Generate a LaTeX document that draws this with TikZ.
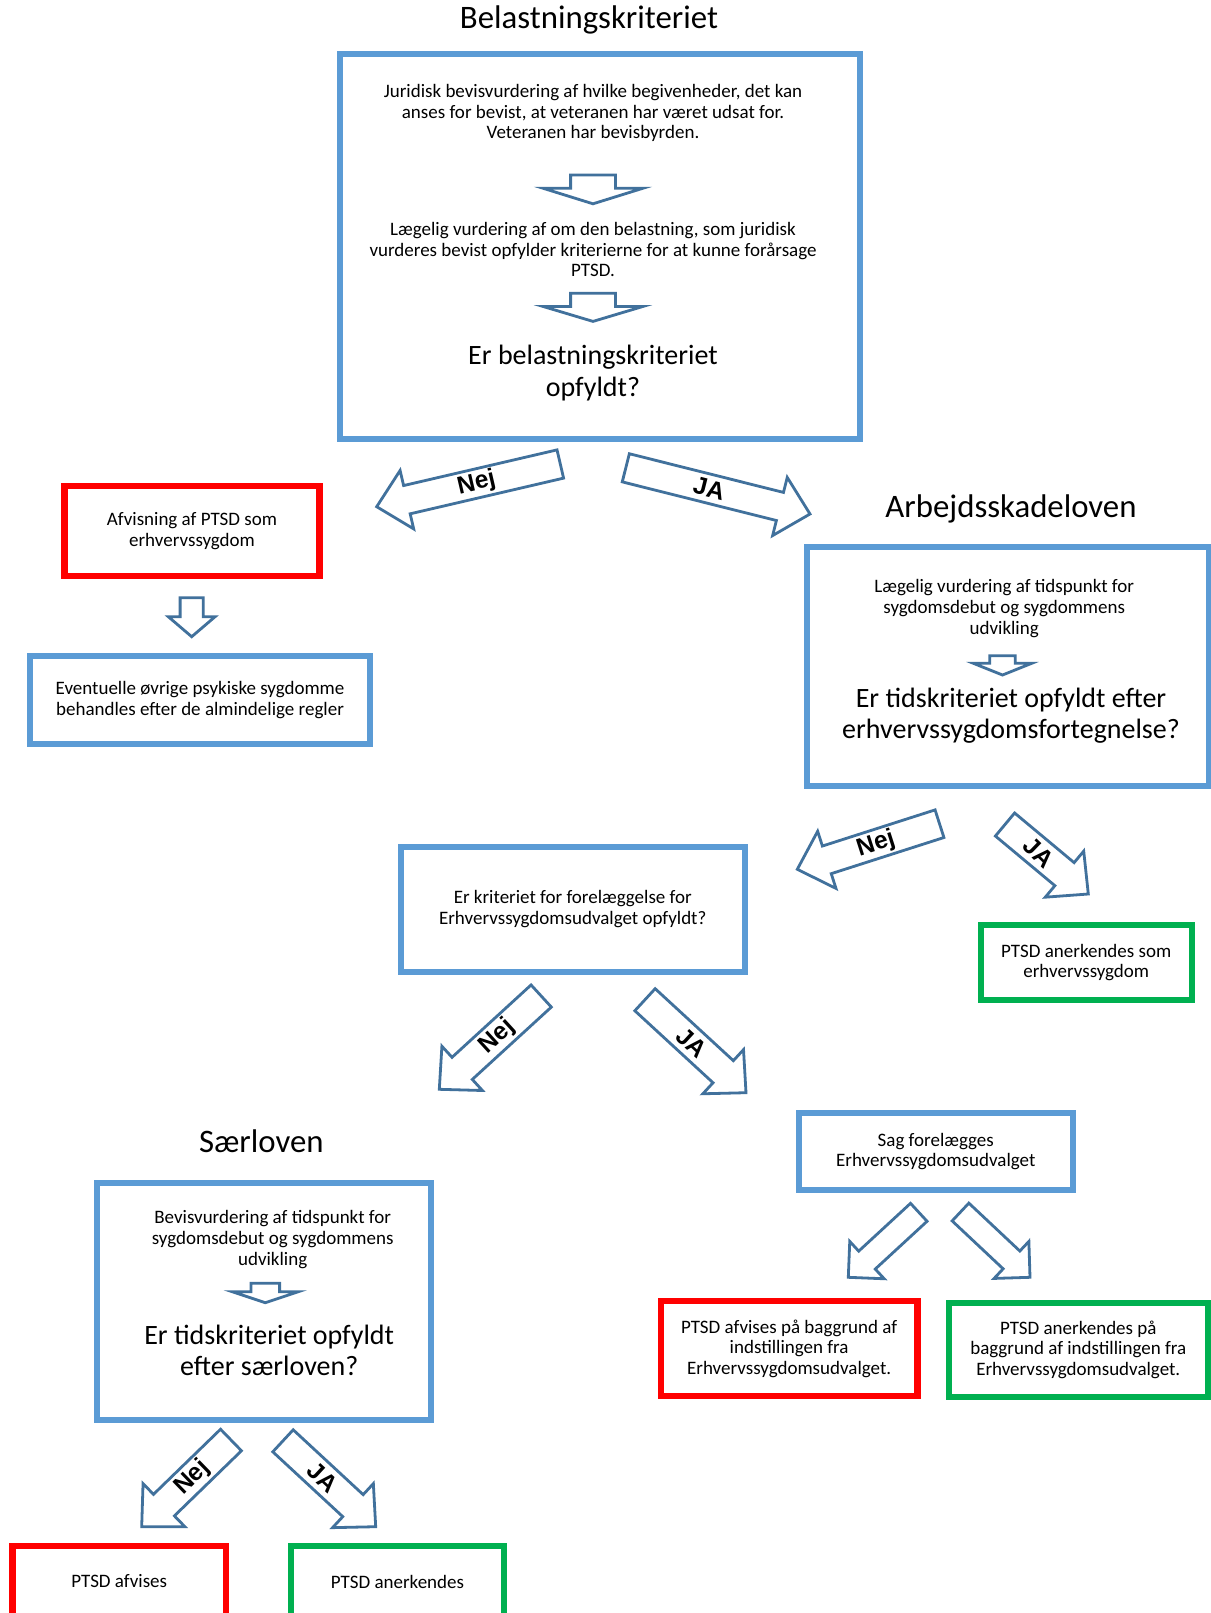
\documentclass[tikz,border=0pt]{standalone}
\usepackage{fontspec}
\setmainfont{Carlito}
\newfontfamily\lblfont{Liberation Sans}
\usetikzlibrary{calc}
\definecolor{boxblue}{HTML}{5B9BD5}
\definecolor{arrblue}{HTML}{41719C}
\definecolor{boxred}{HTML}{FF0000}
\definecolor{boxgreen}{HTML}{00B050}
% block arrow: #1 tail coordinate, #2 tip coordinate, #3 shaft half width, #4 head half width, #5 head length
\newcommand\blockarrow[5]{%
  \coordinate (#1-b) at ($(#2)!#5!(#1)$);
  \draw[arrline] ($(#1)!#3!90:(#2)$) -- ($(#1-b)!#3!90:(#2)$) -- ($(#1-b)!#4!90:(#2)$) -- (#2)
    -- ($(#1-b)!#4!-90:(#2)$) -- ($(#1-b)!#3!-90:(#2)$) -- ($(#1)!#3!-90:(#2)$) -- cycle;
}
\tikzset{
  arrline/.style={draw=arrblue, line width=1.4pt, line join=miter, fill=white},
  bluebox/.style={draw=boxblue, line width=3pt, inner sep=0pt, align=center, font=\smallfont},
  redbox/.style={draw=boxred, line width=3.3pt, inner sep=0pt, align=center, font=\smallfont},
  greenbox/.style={draw=boxgreen, line width=3pt, inner sep=0pt, align=center, font=\smallfont},
  smalltxt/.style={inner sep=0pt, align=center, font=\smallfont},
  bigtxt/.style={inner sep=0pt, align=center, font=\bigfont},
  titletxt/.style={inner sep=0pt, font=\titlefont},
  lbl/.style={inner sep=0pt, font=\lblfont\bfseries\fontsize{12.3pt}{14pt}\selectfont},
}
\newcommand\smallfont{\fontsize{9.5pt}{10.3pt}\selectfont}
\newcommand\bigfont{\fontsize{14pt}{15.6pt}\selectfont}
\newcommand\titlefont{\fontsize{16.4pt}{19pt}\selectfont}
\begin{document}
\begin{tikzpicture}[x=0.5pt, y=-0.5pt]
\useasboundingbox (0,0) rectangle (1211,1613);
\fill[white] (0,0) rectangle (1211,1613);

% ---------- Belastningskriteriet ----------
\node[titletxt] (t1) at (589,20) {Belastningskriteriet};
\node[bluebox, minimum width=260.35pt, minimum height=192.5pt] (box1) at (599.85,246.9) {};
\node[smalltxt] (b1a) at (593,113) {Juridisk bevisvurdering af hvilke begivenheder, det kan\\anses for bevist, at veteranen har været udsat for.\\Veteranen har bevisbyrden.};
\node[smalltxt] (b1b) at (593,249.5) {Lægelig vurdering af om den belastning, som juridisk\\vurderes bevist opfylder kriterierne for at kunne forårsage\\PTSD.};
\node[bigtxt] (b1c) at (593,373) {Er belastningskriteriet\\opfyldt?};
\coordinate (d1) at (593,175); \coordinate (d1h) at (593,203.8);
\blockarrow{d1}{d1h}{11.2pt}{24.9pt}{7.75pt}
\coordinate (d2) at (593,293.3); \coordinate (d2h) at (593,321.4);
\blockarrow{d2}{d2h}{11.2pt}{24.9pt}{7.45pt}

% top Nej / JA
\coordinate (tA) at (560.3,464); \coordinate (tAh) at (376.7,506.7);
\blockarrow{tA}{tAh}{7.25pt}{15pt}{15.5pt}
\node[lbl, rotate=13.1] (tAl) at ($(tA)!43pt!(tAh)$) {Nej};
\coordinate (tB) at (625.8,467.8); \coordinate (tBh) at (810,514);
\blockarrow{tB}{tBh}{7.25pt}{15pt}{15.5pt}
\node[lbl, rotate=-14.1] (tBl) at ($(tB)!43pt!(tBh)$) {JA};

% ---------- left branch ----------
\node[redbox, minimum width=127.5pt, minimum height=45pt] (afv) at (192,531) {Afvisning af PTSD som\\erhvervssygdom};
\coordinate (d3) at (191.7,597.7); \coordinate (d3h) at (191.7,636.7);
\blockarrow{d3}{d3h}{5.8pt}{11.7pt}{10pt}
\node[bluebox, minimum width=170pt, minimum height=44pt] (evt) at (200,700) {Eventuelle øvrige psykiske sygdomme\\behandles efter de almindelige regler};

% ---------- Arbejdsskadeloven ----------
\node[titletxt] (t2) at (1011,509) {Arbejdsskadeloven};
\node[bluebox, minimum width=201.25pt, minimum height=119.75pt] (arb) at (1007.75,666.25) {};
\node[smalltxt] (arba) at (1004.2,608.5) {Lægelig vurdering af tidspunkt for\\sygdomsdebut og sygdommens\\udvikling};
\coordinate (d4) at (1002.5,655.7); \coordinate (d4h) at (1002.5,675);
\blockarrow{d4}{d4h}{6.4pt}{14.6pt}{5.85pt}
\node[bigtxt] (arbb) at (1011,716) {Er tidskriteriet opfyldt efter\\erhvervssygdomsfortegnelse?};

\coordinate (mA) at (939.5,823.7); \coordinate (mAh) at (797.3,869.3);
\blockarrow{mA}{mAh}{7.25pt}{15pt}{15.5pt}
\node[lbl, rotate=17.8] (mAl) at ($(mA)!33.4pt!(mAh)$) {Nej};
\coordinate (mB) at (1005,824.5); \coordinate (mBh) at (1088.3,894);
\blockarrow{mB}{mBh}{7.5pt}{15pt}{15.5pt}
\node[lbl, rotate=-44] (mBl) at ($(mB)!21.9pt!(mBh)$) {JA};

\node[greenbox, minimum width=105.75pt, minimum height=37.75pt] (gr1) at (1086.25,962.5) {PTSD anerkendes som\\erhvervssygdom};

% ---------- Erhvervssygdomsudvalget ----------
\node[bluebox, minimum width=172.25pt, minimum height=62.75pt] (fore) at (572.75,909.25) {Er kriteriet for forelæggelse for\\Erhvervssygdomsudvalget opfyldt?};
\coordinate (lA) at (541.2,996); \coordinate (lAh) at (439.3,1089.3);
\blockarrow{lA}{lAh}{7.5pt}{15pt}{15.5pt}
\node[lbl, rotate=42.5] (lAl) at ($(lA)!30pt!(lAh)$) {Nej};
\coordinate (lB) at (645,999.7); \coordinate (lBh) at (746,1092.7);
\blockarrow{lB}{lBh}{7.5pt}{15pt}{15.5pt}
\node[lbl, rotate=-42.6] (lBl) at ($(lB)!31.8pt!(lBh)$) {JA};

\node[bluebox, minimum width=137.25pt, minimum height=38.15pt] (sag) at (935.75,1151.35) {Sag forelægges\\Erhvervssygdomsudvalget};
\coordinate (sA) at (918.8,1212.3); \coordinate (sAh) at (848.3,1277.3);
\blockarrow{sA}{sAh}{6.1pt}{12.7pt}{12.7pt}
\coordinate (sB) at (960.5,1212); \coordinate (sBh) at (1030,1277.3);
\blockarrow{sB}{sBh}{6.1pt}{12.7pt}{12.7pt}
\node[redbox, minimum width=128.35pt, minimum height=47.5pt] (red2) at (789.15,1348.5) {PTSD afvises på baggrund af\\indstillingen fra\\Erhvervssygdomsudvalget.};
\node[greenbox, minimum width=129.25pt, minimum height=47.25pt] (gr2) at (1078.25,1349.75) {PTSD anerkendes på\\baggrund af indstillingen fra\\Erhvervssygdomsudvalget.};

% ---------- Særloven ----------
\node[titletxt] (t3) at (261.3,1141) {Særloven};
\node[bluebox, minimum width=167.2pt, minimum height=118.5pt] (saer) at (263.8,1301.5) {};
\node[smalltxt] (saera) at (272.7,1239.5) {Bevisvurdering af tidspunkt for\\sygdomsdebut og sygdommens\\udvikling};
\coordinate (d5) at (265.3,1283.3); \coordinate (d5h) at (265.3,1302.7);
\blockarrow{d5}{d5h}{7.15pt}{16.5pt}{5.5pt}
\node[bigtxt] (saerb) at (269.2,1350) {Er tidskriteriet opfyldt\\efter særloven?};

\coordinate (rA) at (231,1440); \coordinate (rAh) at (141.7,1526.7);
\blockarrow{rA}{rAh}{7.5pt}{15pt}{15.5pt}
\node[lbl, rotate=44.2] (rAl) at ($(rA)!26.9pt!(rAh)$) {Nej};
\coordinate (rB) at (283,1440.8); \coordinate (rBh) at (375.7,1526.7);
\blockarrow{rB}{rBh}{7.5pt}{15pt}{15.5pt}
\node[lbl, rotate=-42.8] (rBl) at ($(rB)!26.9pt!(rBh)$) {JA};

\node[redbox, minimum width=106.75pt, minimum height=35.5pt] (red3) at (119.25,1581.5) {PTSD afvises};
\node[greenbox, minimum width=106.5pt, minimum height=35.5pt] (gr3) at (397.5,1581.5) {PTSD anerkendes};
\end{tikzpicture}
\end{document}
